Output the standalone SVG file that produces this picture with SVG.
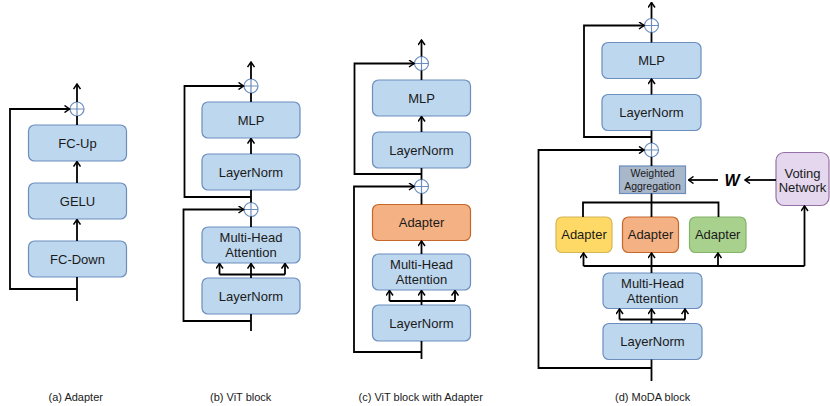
<svg xmlns="http://www.w3.org/2000/svg" width="830" height="406" viewBox="0 0 830 406">
<style>
.box{fill:#bdd7ee;stroke:#6c8ebf;stroke-width:1.2}
.orange{fill:#f4b183;stroke:#c5672b;stroke-width:1.2}
.yellow{fill:#ffd966;stroke:#d6b656;stroke-width:1.2}
.green{fill:#a9d18e;stroke:#82b366;stroke-width:1.2}
.purple{fill:#e4d7ee;stroke:#9673a6;stroke-width:1.2}
.agg{fill:#a9b7cb;stroke:#6c8ebf;stroke-width:1.2}
.t{font-family:"Liberation Sans",Arial,sans-serif;font-size:13px;fill:#1a1a1a;text-anchor:middle}
.ts{font-family:"Liberation Sans",Arial,sans-serif;font-size:10.5px;fill:#1a1a1a;text-anchor:middle}
.cap{font-family:"Liberation Sans",Arial,sans-serif;font-size:11px;fill:#1a1a1a}
.w{font-family:"Liberation Sans",Arial,sans-serif;font-size:16px;font-weight:bold;font-style:italic;fill:#000;text-anchor:middle}
.ln{fill:none;stroke:#000;stroke-width:1.8}
.ar{fill:none;stroke:#000;stroke-width:1.8;marker-end:url(#arr)}
.plus circle{fill:#fff;stroke:#6c8ebf;stroke-width:1.2}
.plus path{stroke:#6c8ebf;stroke-width:1.2}
</style>
<defs>
<marker id="arr" markerUnits="userSpaceOnUse" viewBox="0 0 8 8" refX="7" refY="4" markerWidth="8" markerHeight="8" orient="auto">
<path d="M2,0.5 L7,4 L2,7.5" fill="none" stroke="#000" stroke-width="1.5"/>
</marker>
</defs>

<!-- Panel (a) -->
<g id="a-fcup"><rect class="box" x="28.5" y="125" width="98" height="36" rx="6"/><text class="t" x="77.5" y="147.5">FC-Up</text></g>
<g id="a-gelu"><rect class="box" x="28.5" y="183" width="98" height="36" rx="6"/><text class="t" x="77.5" y="205.5">GELU</text></g>
<g id="a-fcdown"><rect class="box" x="28.5" y="241" width="98" height="36" rx="6"/><text class="t" x="77.5" y="263.5">FC-Down</text></g>
<g id="a-plus" class="plus"><circle cx="77" cy="109" r="7"/><path d="M70,109 H84 M77,102 V116"/></g>

<!-- Panel (b) -->
<g id="b-mlp"><rect class="box" x="202" y="102" width="98" height="36" rx="6"/><text class="t" x="251" y="124.5">MLP</text></g>
<g id="b-ln2"><rect class="box" x="202" y="154" width="98" height="36" rx="6"/><text class="t" x="251" y="176.5">LayerNorm</text></g>
<g id="b-mha"><rect class="box" x="202" y="227" width="98" height="36" rx="6"/><text class="t" x="251" y="242.4">Multi-Head</text><text class="t" x="251" y="257.4">Attention</text></g>
<g id="b-ln1"><rect class="box" x="202" y="278" width="98" height="36" rx="6"/><text class="t" x="251" y="300.5">LayerNorm</text></g>
<g id="b-plus1" class="plus"><circle cx="251" cy="86" r="7"/><path d="M244,86 H258 M251,79 V93"/></g>
<g id="b-plus2" class="plus"><circle cx="251" cy="209.5" r="7"/><path d="M244,209.5 H258 M251,202.5 V216.5"/></g>

<!-- Panel (c) -->
<g id="c-mlp"><rect class="box" x="372.5" y="80" width="98" height="36" rx="6"/><text class="t" x="421.5" y="102.5">MLP</text></g>
<g id="c-ln2"><rect class="box" x="372.5" y="132" width="98" height="36" rx="6"/><text class="t" x="421.5" y="154.5">LayerNorm</text></g>
<g id="c-adapter"><rect class="orange" x="372.5" y="204.5" width="98" height="36" rx="6"/><text class="t" x="421.5" y="227">Adapter</text></g>
<g id="c-mha"><rect class="box" x="372.5" y="254" width="98" height="36" rx="6"/><text class="t" x="421.5" y="269.4">Multi-Head</text><text class="t" x="421.5" y="284.4">Attention</text></g>
<g id="c-ln1"><rect class="box" x="372.5" y="305" width="98" height="36" rx="6"/><text class="t" x="421.5" y="327.5">LayerNorm</text></g>
<g id="c-plus1" class="plus"><circle cx="421.5" cy="63.5" r="7"/><path d="M414.5,63.5 H428.5 M421.5,56.5 V70.5"/></g>
<g id="c-plus2" class="plus"><circle cx="421.5" cy="186.5" r="7"/><path d="M414.5,186.5 H428.5 M421.5,179.5 V193.5"/></g>

<!-- Panel (d) -->
<g id="d-mlp"><rect class="box" x="602" y="42.5" width="99" height="36" rx="6"/><text class="t" x="651.5" y="65">MLP</text></g>
<g id="d-ln2"><rect class="box" x="602" y="94.5" width="99" height="36" rx="6"/><text class="t" x="651.5" y="117">LayerNorm</text></g>
<g id="d-agg"><rect class="agg" x="619.5" y="166" width="66" height="27.5"/><text class="ts" x="652.5" y="177">Weighted</text><text class="ts" x="652.5" y="189.5">Aggregation</text></g>
<g id="d-voting"><rect class="purple" x="776" y="152.5" width="53" height="53" rx="8"/><text class="t" x="802.5" y="178">Voting</text><text class="t" x="802.5" y="191.5">Network</text></g>
<g id="d-w"><text class="w" x="732" y="186">W</text></g>
<g id="d-adapter1"><rect class="yellow" x="556" y="217" width="56" height="35.5" rx="6"/><text class="t" x="584" y="239.3">Adapter</text></g>
<g id="d-adapter2"><rect class="orange" x="622.5" y="217" width="56" height="35.5" rx="6"/><text class="t" x="650.5" y="239.3">Adapter</text></g>
<g id="d-adapter3"><rect class="green" x="689.5" y="217" width="56.5" height="35.5" rx="6"/><text class="t" x="717.7" y="239.3">Adapter</text></g>
<g id="d-mha"><rect class="box" x="603" y="273" width="99" height="35.5" rx="6"/><text class="t" x="652.5" y="288.2">Multi-Head</text><text class="t" x="652.5" y="303.2">Attention</text></g>
<g id="d-ln1"><rect class="box" x="603" y="323.5" width="99" height="36" rx="6"/><text class="t" x="652.5" y="346">LayerNorm</text></g>
<g id="d-plus1" class="plus"><circle cx="651.5" cy="25.5" r="7"/><path d="M644.5,25.5 H658.5 M651.5,18.5 V32.5"/></g>
<g id="d-plus2" class="plus"><circle cx="651.5" cy="150" r="7"/><path d="M644.5,150 H658.5 M651.5,143 V157"/></g>

<!-- Captions -->
<g id="captions">
<text class="cap" x="48.5" y="401">(a) Adapter</text>
<text class="cap" x="210" y="401">(b) ViT block</text>
<text class="cap" x="358.5" y="401">(c) ViT block with Adapter</text>
<text class="cap" x="615" y="401">(d) MoDA block</text>
</g>

<g id="connectors">
<!-- a -->
<path class="ln" d="M77,301 V277"/>
<path class="ar" d="M77,241 V219.5"/>
<path class="ar" d="M77,183 V161.5"/>
<path class="ln" d="M77,125 V116"/>
<path class="ar" d="M77,102 V84"/>
<path class="ar" d="M77,289 H10 V109 H69.5"/>
<!-- b -->
<path class="ln" d="M251,331 V314"/>
<path class="ar" d="M251,321 H183.5 V209.5 H243.5"/>
<path class="ln" d="M251,278 V274.5 M219.5,274.5 H285"/>
<path class="ar" d="M219.5,274.5 V263.5"/>
<path class="ar" d="M251,274.5 V263.5"/>
<path class="ar" d="M285,274.5 V263.5"/>
<path class="ln" d="M251,227 V216.5"/>
<path class="ln" d="M251,202.5 V190"/>
<path class="ar" d="M251,197 H184.5 V86 H243.5"/>
<path class="ar" d="M251,154 V138.5"/>
<path class="ln" d="M251,102 V93"/>
<path class="ar" d="M251,79 V62"/>
<!-- c -->
<path class="ln" d="M421.5,359 V341"/>
<path class="ar" d="M421.5,352 H354 V186.5 H414"/>
<path class="ln" d="M421.5,305 V301 M389.5,301 H455"/>
<path class="ar" d="M389.5,301 V290.5"/>
<path class="ar" d="M421.5,301 V290.5"/>
<path class="ar" d="M455,301 V290.5"/>
<path class="ar" d="M421.5,254 V241"/>
<path class="ln" d="M421.5,204.5 V193.5"/>
<path class="ln" d="M421.5,179.5 V168"/>
<path class="ar" d="M421.5,174 H354.5 V63.5 H414"/>
<path class="ar" d="M421.5,132 V116.5"/>
<path class="ln" d="M421.5,80 V70.5"/>
<path class="ar" d="M421.5,56.5 V40"/>
<!-- d -->
<path class="ln" d="M651.5,381 V359.5"/>
<path class="ar" d="M651.5,368 H538.5 V150 H644"/>
<path class="ln" d="M651.5,323.5 V319.5 M619.5,319.5 H685"/>
<path class="ar" d="M619.5,319.5 V309"/>
<path class="ar" d="M651.5,319.5 V309"/>
<path class="ar" d="M685,319.5 V309"/>
<path class="ar" d="M651.5,273 V253"/>
<path class="ln" d="M583.5,266 H804.5"/>
<path class="ar" d="M804.5,266 V206"/>
<path class="ar" d="M583.5,266 V253"/>
<path class="ar" d="M718,266 V253"/>
<path class="ln" d="M583,217 V202.5 H718.5 V217 M651.5,217 V193.5"/>
<path class="ln" d="M651.5,166 V157"/>
<path class="ln" d="M651.5,143 V130.5"/>
<path class="ar" d="M651.5,137 H584 V25.5 H644"/>
<path class="ar" d="M651.5,94.5 V79"/>
<path class="ln" d="M651.5,42.5 V32.5"/>
<path class="ar" d="M651.5,18.5 V2.5"/>
<path class="ar" d="M776,180 H745"/>
<path class="ar" d="M718,180 H688.5"/>
</g>
</svg>
